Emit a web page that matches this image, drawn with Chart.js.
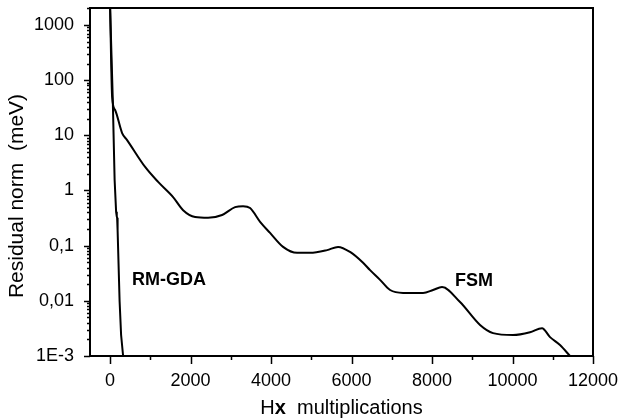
<!DOCTYPE html>
<html>
<head>
<meta charset="utf-8">
<script src="https://cdn.jsdelivr.net/npm/chart.js@4.4.1/dist/chart.umd.min.js"></script>
<style>
    body { margin: 0; background: #fff; }
    #wrap { width: 621px; height: 419px; position: relative; }
</style>
</head>
<body>
<div id="wrap"><canvas id="residualChart"></canvas></div>
<script>
// FSM curve
const fsmX = [0, 50, 124, 298, 422, 870, 1193, 1565, 1814, 2112, 2435, 2783, 3106, 3304, 3478, 3727, 3975, 4298, 4646, 4969, 5391, 5665, 5963, 6286, 6460, 6708, 6957, 7280, 7776, 8025, 8248, 8696, 9193, 9516, 10012, 10435, 10733, 10932, 11180, 11429]
const fsmY = [2000, 49.5, 28.8, 11, 8.2, 2.67, 1.43, 0.76, 0.44, 0.33, 0.32, 0.36, 0.50, 0.52, 0.48, 0.27, 0.17, 0.095, 0.074, 0.074, 0.083, 0.095, 0.077, 0.049, 0.036, 0.024, 0.0157, 0.0139, 0.0139, 0.0157, 0.0178, 0.0095, 0.00365, 0.0026, 0.0024, 0.0027, 0.0032, 0.0022, 0.00158, 0.001]

// RM-GDA curve
const rmX = [0, 66, 112, 149, 165, 174, 186, 236, 273, 323]
const rmY = [2000, 44, 1.55, 0.41, 0.34, 0.32, 0.19, 0.0097, 0.0024, 0.001]

const xTicks = [0, 2000, 4000, 6000, 8000, 10000, 12000]
const xMinorTicks = [1000, 3000, 5000, 7000, 9000, 11000]
const yTicks = [0.001, 0.01, 0.1, 1, 10, 100, 1000]
const yTickLabels = ['1E-3', '0,01', '0,1', '1', '10', '100', '1000']

const curveLabels = [
    { text: 'RM-GDA', x: 1466, y: 0.0239 },
    { text: 'FSM', x: 9043, y: 0.0229 },
]

const FONT = '"Liberation Sans", Arial, Helvetica, sans-serif'

const toPoints = (xs, ys) => xs.map((x, i) => ({ x: x, y: ys[i] }))

// minor log ticks 2..9 of every decade
const yMinorTicks = []
yTicks.forEach((d) => {
    for (let k = 2; k <= 9; k++) yMinorTicks.push(d * k)
})

const framePlugin = {
    id: 'frame',
    afterDraw(chart) {
        const { ctx, chartArea: a, scales } = chart
        const xs = scales.x, ys = scales.y
        ctx.save()
        ctx.strokeStyle = '#000'
        ctx.lineWidth = 2
        ctx.strokeRect(a.left, a.top, a.right - a.left, a.bottom - a.top)

        // tick marks
        ctx.lineWidth = 1.5
        ctx.beginPath()
        xTicks.forEach((v) => {
            const px = Math.round(xs.getPixelForValue(v)) + 0.5
            ctx.moveTo(px, a.bottom); ctx.lineTo(px, a.bottom + 8)
        })
        xMinorTicks.forEach((v) => {
            const px = Math.round(xs.getPixelForValue(v)) + 0.5
            ctx.moveTo(px, a.bottom); ctx.lineTo(px, a.bottom + 4)
        })
        yTicks.forEach((v) => {
            const py = Math.round(ys.getPixelForValue(v)) + 0.5
            ctx.moveTo(a.left, py); ctx.lineTo(a.left - 6, py)
        })
        yMinorTicks.forEach((v) => {
            if (v > ys.max) return
            const py = Math.round(ys.getPixelForValue(v)) + 0.5
            ctx.moveTo(a.left, py); ctx.lineTo(a.left - 3, py)
        })
        ctx.stroke()

        // curve labels
        ctx.fillStyle = '#000'
        ctx.font = 'bold 18px ' + FONT
        ctx.textAlign = 'center'
        ctx.textBaseline = 'middle'
        curveLabels.forEach((l) => {
            ctx.fillText(l.text, xs.getPixelForValue(l.x), ys.getPixelForValue(l.y))
        })

        // y axis title
        ctx.save()
        ctx.translate(23, 196)
        ctx.rotate(-Math.PI / 2)
        ctx.font = '21px ' + FONT
        ctx.textAlign = 'center'
        ctx.textBaseline = 'alphabetic'
        ctx.fillText('Residual norm  (meV)', 0, 0)
        ctx.restore()

        // x axis title, with a bold x
        const parts = [['H', '20px '], ['x', 'bold 20px '], ['  multiplications', '20px ']]
        let total = 0
        parts.forEach((p) => { ctx.font = p[1] + FONT; total += ctx.measureText(p[0]).width })
        let cx = (a.left + a.right) / 2 - total / 2
        ctx.textAlign = 'left'
        ctx.textBaseline = 'alphabetic'
        parts.forEach((p) => {
            ctx.font = p[1] + FONT
            ctx.fillText(p[0], cx, 414)
            cx += ctx.measureText(p[0]).width
        })
        ctx.restore()
    }
}

const ctx = document.getElementById('residualChart').getContext('2d')

new Chart(ctx, {
    type: 'line',
    data: {
        datasets: [
            {
                label: 'FSM',
                data: toPoints(fsmX, fsmY),
                borderColor: '#000',
                borderWidth: 2,
                pointRadius: 0,
                cubicInterpolationMode: 'monotone',
                tension: 0.4,
            },
            {
                label: 'RM-GDA',
                data: toPoints(rmX, rmY),
                borderColor: '#000',
                borderWidth: 2,
                pointRadius: 0,
                tension: 0,
            },
        ],
    },
    options: {
        responsive: true,
        maintainAspectRatio: false,
        animation: false,
        layout: { padding: { top: 8, right: 28, left: 0, bottom: 0 } },
        plugins: {
            legend: { display: false },
            tooltip: { enabled: false },
        },
        scales: {
            x: {
                type: 'linear',
                min: -500,
                max: 12000,
                grid: { display: false, drawTicks: false },
                border: { display: false },
                afterBuildTicks: (scale) => { scale.ticks = xTicks.map((v) => ({ value: v })) },
                afterFit: (scale) => {
                    scale.height = 63
                    scale.paddingLeft = 0
                    scale.paddingRight = 0
                },
                ticks: {
                    color: '#000',
                    font: { family: FONT, size: 18 },
                    padding: 14,
                    maxRotation: 0,
                    autoSkip: false,
                    callback: (v) => String(v),
                },
            },
            y: {
                type: 'logarithmic',
                min: 0.001,
                max: 2030,
                grid: { display: false, drawTicks: false },
                border: { display: false },
                afterBuildTicks: (scale) => { scale.ticks = yTicks.map((v) => ({ value: v })) },
                afterFit: (scale) => {
                    scale.width = 90
                    scale.paddingTop = 0
                    scale.paddingBottom = 0
                },
                ticks: {
                    color: '#000',
                    font: { family: FONT, size: 18 },
                    padding: 16,
                    autoSkip: false,
                    callback: (v) => {
                        const i = yTicks.findIndex((t) => Math.abs(t - v) / t < 1e-6)
                        return i >= 0 ? yTickLabels[i] : ''
                    },
                },
            },
        },
    },
    plugins: [framePlugin],
})
</script>
</body>
</html>
